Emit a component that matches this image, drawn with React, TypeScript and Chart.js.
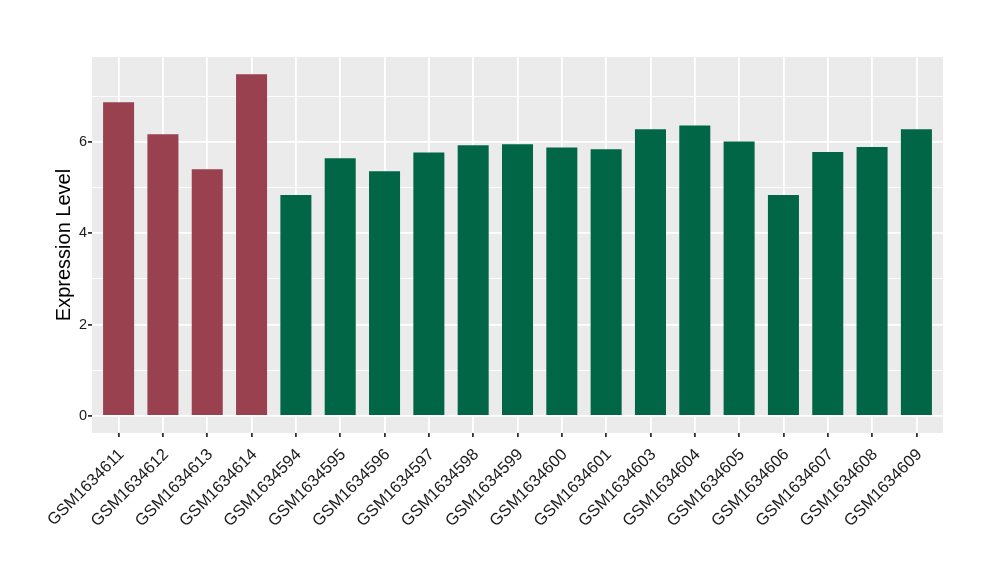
import React, { useEffect, useRef } from "react";
import { Chart, registerables } from "chart.js";

Chart.register(...registerables);

const categories = [
  "GSM1634611", "GSM1634612", "GSM1634613", "GSM1634614", "GSM1634594",
  "GSM1634595", "GSM1634596", "GSM1634597", "GSM1634598", "GSM1634599",
  "GSM1634600", "GSM1634601", "GSM1634603", "GSM1634604", "GSM1634605",
  "GSM1634606", "GSM1634607", "GSM1634608", "GSM1634609",
];
const values = [
  6.87, 6.17, 5.40, 7.48, 4.84,
  5.64, 5.36, 5.77, 5.93, 5.95,
  5.88, 5.84, 6.28, 6.36, 6.01,
  4.84, 5.78, 5.89, 6.28,
];
const groups = [
  "a", "a", "a", "a", "b", "b", "b", "b", "b", "b",
  "b", "b", "b", "b", "b", "b", "b", "b", "b",
];
const groupColors: Record<string, string> = { a: "#9A4150", b: "#006646" };
const yTickValues = [0, 1, 2, 3, 4, 5, 6, 7];
const yTickLabels = ["0", "", "2", "", "4", "", "6", ""];

const panelBg = {
  id: "panelBg",
  beforeDraw(chart: any) {
    const { ctx, chartArea } = chart;
    ctx.save();
    ctx.fillStyle = "#EBEBEB";
    ctx.fillRect(chartArea.left, chartArea.top, chartArea.right - chartArea.left, chartArea.bottom - chartArea.top);
    ctx.restore();
  },
};

export default function App() {
  const ref = useRef<HTMLCanvasElement | null>(null);
  useEffect(() => {
    if (!ref.current) return;
    const chart = new Chart(ref.current, {
      type: "bar",
      data: {
        datasets: [
          {
            data: values.map((v, i) => ({ x: i, y: v })),
            backgroundColor: groups.map((g) => groupColors[g]),
            barPercentage: 0.7,
            categoryPercentage: 1,
          },
        ],
      },
      options: {
        animation: false,
        responsive: false,
        maintainAspectRatio: false,
        layout: { padding: { top: 57, right: 57, left: 0, bottom: 0 } },
        plugins: { legend: { display: false }, tooltip: { enabled: false } },
        scales: {
          x: {
            type: "linear",
            min: -0.6,
            max: 18.6,
            offset: false,
            afterBuildTicks: (s: any) => {
              s.ticks = categories.map((_, i) => ({ value: i }));
            },
            afterFit: (s: any) => {
              s.height = 147;
            },
            grid: { offset: false, color: "#FFFFFF", lineWidth: 1.8, tickColor: "#333333", tickLength: 4, drawOnChartArea: true },
            border: { display: false },
            ticks: {
              autoSkip: false,
              minRotation: 45,
              maxRotation: 45,
              padding: 8,
              labelOffset: 3,
              color: "#1A1A1A",
              font: { family: "'Liberation Sans', Arial, sans-serif", size: 16.5 },
              callback: (v: any) => categories[v as number] ?? "",
            },
          },
          y: {
            min: -0.374,
            max: 7.86,
            afterBuildTicks: (s: any) => {
              s.ticks = yTickValues.map((v) => ({ value: v }));
            },
            afterFit: (s: any) => {
              s.width = 92;
            },
            grid: {
              color: "#FFFFFF",
              lineWidth: (c: any) => (c.tick && c.tick.value % 2 === 0 ? 1.8 : 0.9),
              tickColor: (c: any) => (c.tick && c.tick.value % 2 === 0 ? "#333333" : "rgba(0,0,0,0)"),
              tickLength: 4,
            },
            border: { display: false },
            ticks: {
              padding: 1,
              color: "#1A1A1A",
              font: { family: "'Liberation Sans', Arial, sans-serif", size: 14.5 },
              callback: (v: any) => {
                const idx = yTickValues.indexOf(v as number);
                return idx >= 0 ? yTickLabels[idx] : "";
              },
            },
            title: {
              display: true,
              text: "Expression Level",
              color: "#000000",
              font: { family: "'Liberation Sans', Arial, sans-serif", size: 20 },
              padding: { top: 52, bottom: 0 },
            },
          },
        },
      },
      plugins: [panelBg],
    } as any);
    return () => chart.destroy();
  }, []);
  return (
    <div style={{ position: "absolute", left: 0, top: 0, width: 1000, height: 580, background: "#FFFFFF" }}>
      <canvas ref={ref} width={1000} height={580} style={{ width: 1000, height: 580, display: "block" }} />
    </div>
  );
}
